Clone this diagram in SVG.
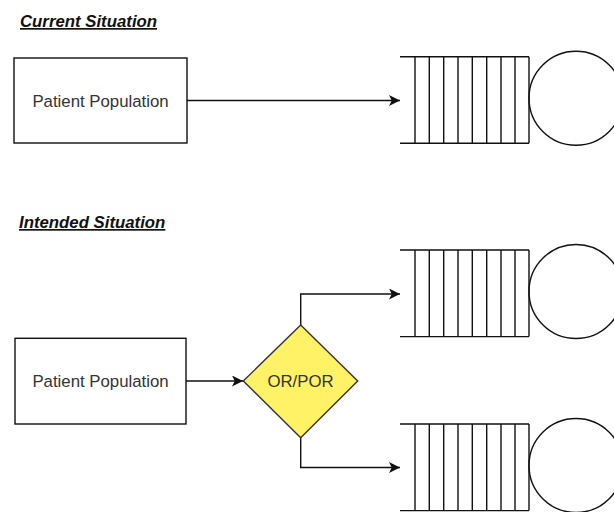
<svg xmlns="http://www.w3.org/2000/svg" width="614" height="512" viewBox="0 0 614 512">
<style>
.t{font-family:"Liberation Sans",Arial,sans-serif;font-size:16.8px;fill:#333}
.h{font-family:"Liberation Sans",Arial,sans-serif;font-size:16.8px;font-weight:bold;font-style:italic;text-decoration:underline;fill:#111}
.s{fill:none;stroke:#111;stroke-width:1.4}
.b{fill:#fff;stroke:#111;stroke-width:1.4}
</style>
<defs>
<marker id="ah" viewBox="0 0 10 10" refX="10" refY="5" markerWidth="11" markerHeight="11" markerUnits="userSpaceOnUse" orient="auto">
<path d="M0,0 L10,5 L0,10 L2.5,5 Z" fill="#111"/>
</marker>
<g id="queue">
<path class="s" d="M0,0 H129 M0,86.6 H129 M15,0 V86.6 M29.3,0 V86.6 M43.7,0 V86.6 M58,0 V86.6 M72.3,0 V86.6 M86.7,0 V86.6 M101,0 V86.6 M115,0 V86.6 M129,0 V86.6"/>
<circle class="s" cx="176" cy="41.5" r="47"/>
</g>
</defs>
<rect width="614" height="512" fill="#fff"/>
<text class="h" x="20" y="27">Current Situation</text>
<text class="h" x="19" y="228">Intended Situation</text>
<g id="connectors">
<path class="s" d="M187,100.5 H400" marker-end="url(#ah)"/>
<path class="s" d="M186,381 H243" marker-end="url(#ah)"/>
<path class="s" d="M300.7,325 V294 H400" marker-end="url(#ah)"/>
<path class="s" d="M300.7,437.7 V467.5 H400" marker-end="url(#ah)"/>
</g>
<g id="pop1">
<rect class="b" x="14" y="58" width="173" height="85"/>
<text class="t" x="100.5" y="106.5" text-anchor="middle">Patient Population</text>
</g>
<g id="queue1"><use href="#queue" x="400" y="56.7"/></g>
<g id="pop2">
<rect class="b" x="15" y="338.3" width="171" height="85.7"/>
<text class="t" x="100.5" y="387" text-anchor="middle">Patient Population</text>
</g>
<g id="decision">
<path d="M300.7,325 L357.7,381 L300.7,437.7 L243.3,381 Z" fill="#FFF266" stroke="#333" stroke-width="1.4"/>
<text class="t" x="300.5" y="387" text-anchor="middle">OR/POR</text>
</g>
<g id="queue2"><use href="#queue" x="400" y="250"/></g>
<g id="queue3"><use href="#queue" x="400" y="424"/></g>
</svg>
